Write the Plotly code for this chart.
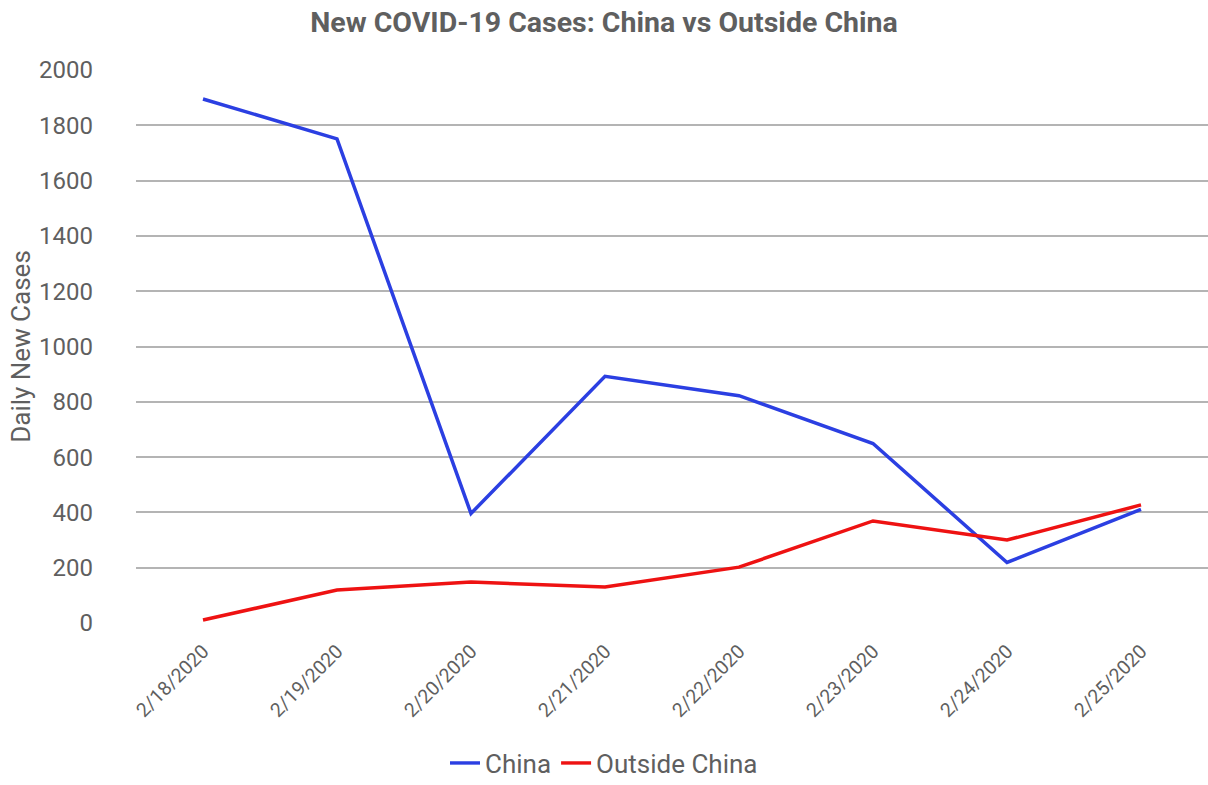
import plotly.graph_objects as go

dates = ["2/18/2020", "2/19/2020", "2/20/2020", "2/21/2020",
         "2/22/2020", "2/23/2020", "2/24/2020", "2/25/2020"]
china = [1895, 1751, 396, 892, 822, 649, 219, 411]
outside_china = [11, 119, 148, 130, 202, 369, 300, 427]
y_ticks = [0, 200, 400, 600, 800, 1000, 1200, 1400, 1600, 1800, 2000]

FONT = "Roboto, Liberation Sans, Arial, sans-serif"
GREY = "#5f5f5f"

fig = go.Figure()
fig.add_trace(go.Scatter(x=dates, y=china, mode="lines", name="China",
                         line=dict(color="#2b3fe2", width=3.5)))
fig.add_trace(go.Scatter(x=dates, y=outside_china, mode="lines", name="Outside China",
                         line=dict(color="#ee1212", width=3.5)))

fig.update_layout(
    width=1208, height=785,
    margin=dict(l=136, r=0, t=70, b=162),
    paper_bgcolor="white", plot_bgcolor="white",
    font=dict(family=FONT, color=GREY, size=20),
    title=dict(text="<b>New COVID-19 Cases: China vs Outside China</b>",
               x=0.5, xanchor="center", y=0.972, yanchor="middle",
               font=dict(size=28.5, color=GREY, family=FONT)),
    xaxis=dict(type="category", range=[-0.5, 7.5], tickangle=-45,
               showgrid=False, showline=False, ticks="", automargin=False,
               ticklabelstandoff=12,
               tickfont=dict(size=19.5, color=GREY)),
    yaxis=dict(range=[0, 2000], tickvals=y_ticks, showgrid=True,
               gridcolor="#b4b4b4", gridwidth=2, zeroline=False,
               ticks="", ticklabelstandoff=42, automargin=False,
               tickfont=dict(size=24, color=GREY),
               title=dict(text="Daily New Cases", font=dict(size=26, color=GREY), standoff=0)),
    legend=dict(orientation="h", x=0.5, xref="container", xanchor="center",
                y=0.028, yref="container", yanchor="middle",
                font=dict(size=26, color=GREY), itemwidth=30, tracegroupgap=0),
    showlegend=True,
)

fig.write_html("out.html")
